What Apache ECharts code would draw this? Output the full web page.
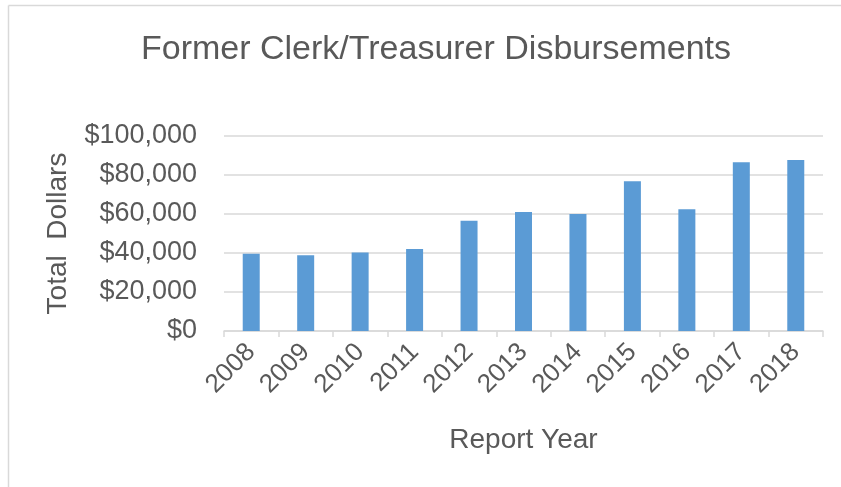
<!DOCTYPE html>
<html><head><meta charset="utf-8">
<script src="https://cdn.jsdelivr.net/npm/echarts@6/dist/echarts.min.js"></script>
<style>html,body{margin:0;padding:0;background:#fff}#c{width:841px;height:487px}</style>
</head><body><div id="c"></div>
<script>
const years = ['2008','2009','2010','2011','2012','2013','2014','2015','2016','2017','2018'];
const disbursements = [39600, 38800, 40300, 42000, 56600, 61000, 60000, 76800, 62400, 86500, 87700];
const yTicks = [0, 20000, 40000, 60000, 80000, 100000];

const chart = echarts.init(document.getElementById('c'));
const txt = '#595959';
const font = 'Liberation Sans, Arial, sans-serif';
chart.setOption({
  animation: false,
  backgroundColor: '#fff',
  title: {
    text: 'Former Clerk/Treasurer Disbursements',
    left: 431, top: 28, textAlign: 'center',
    textStyle: {color: txt, fontSize: 34, fontWeight: 'normal', fontFamily: font}
  },
  graphic: [
    {type: 'line', shape: {x1: 8.5, y1: 5.5, x2: 841, y2: 5.5}, style: {stroke: '#D9D9D9', lineWidth: 1.5}},
    {type: 'line', shape: {x1: 8.5, y1: 5.5, x2: 8.5, y2: 487}, style: {stroke: '#D9D9D9', lineWidth: 1.5}}
  ],
  grid: {left: 224, right: 18, top: 136, bottom: 156, containLabel: false},
  xAxis: {
    type: 'category', data: years,
    name: 'Report Year', nameLocation: 'middle', nameGap: 95,
    nameTextStyle: {color: txt, fontSize: 28, fontFamily: font},
    axisLine: {lineStyle: {color: '#D9D9D9', width: 1.5}},
    axisTick: {show: true, alignWithLabel: false, length: 6, lineStyle: {color: '#D9D9D9', width: 1.5}},
    axisLabel: {color: txt, fontSize: 26, fontFamily: font, rotate: 45, margin: 17, interval: 0}
  },
  yAxis: {
    type: 'value', min: 0, max: 100000, interval: 20000,
    name: 'Total  Dollars', nameLocation: 'middle', nameGap: 152, nameRotate: 90,
    nameTextStyle: {color: txt, fontSize: 28, fontFamily: font},
    axisLine: {show: false}, axisTick: {show: false},
    splitLine: {lineStyle: {color: '#D9D9D9', width: 1.5}},
    axisLabel: {color: txt, fontSize: 27, fontFamily: font, margin: 27,
      formatter: v => yTicks.includes(v) ? '$' + v.toLocaleString('en-US') : ''}
  },
  series: [{
    type: 'bar', data: disbursements, barWidth: 17,
    itemStyle: {color: '#5B9BD5'}
  }]
});
</script></body></html>
